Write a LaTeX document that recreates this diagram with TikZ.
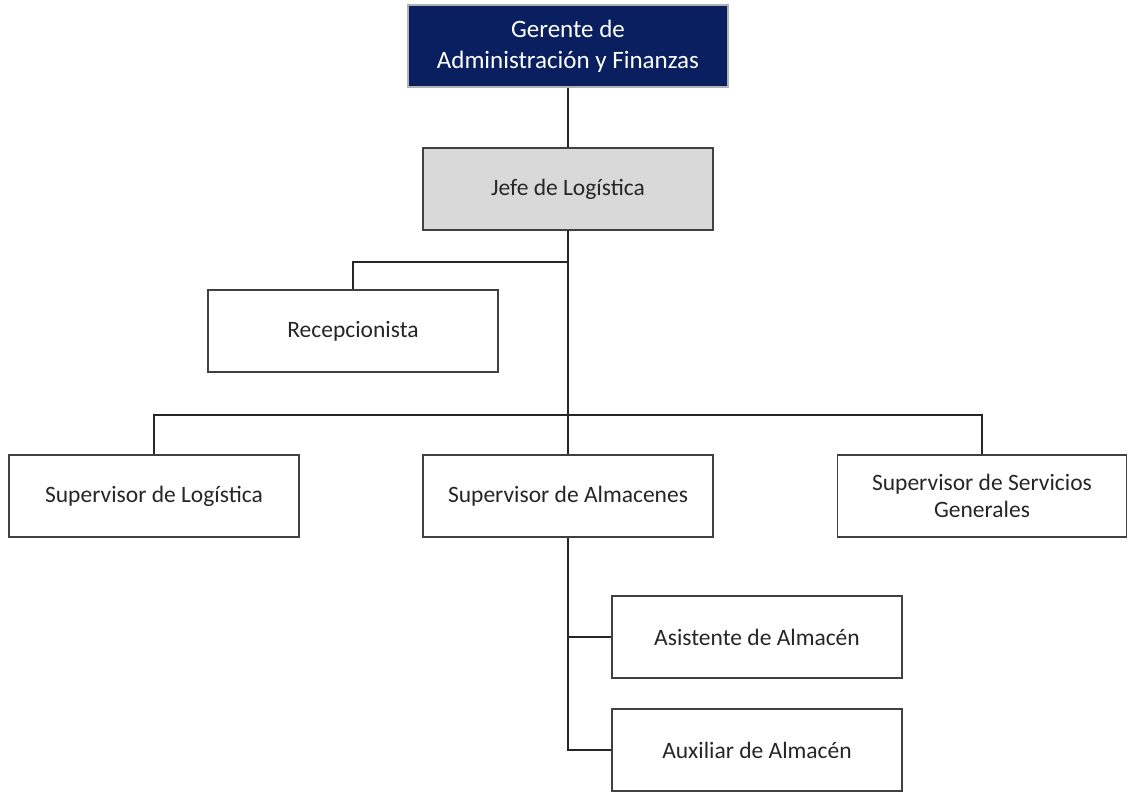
\documentclass[tikz,border=0pt]{standalone}
\usepackage{fontspec}
\setmainfont{Carlito}
\usetikzlibrary{positioning,calc}
\definecolor{navy}{HTML}{0A1F5F}
\definecolor{boxgray}{HTML}{D9D9D9}
\definecolor{edge}{HTML}{404040}
\definecolor{ink}{HTML}{262626}

\begin{document}
\begin{tikzpicture}[x=1pt,y=-1pt,every node/.style={font=\fontsize{23.5}{27}\selectfont},
  post/.style={draw=edge,line width=1.6pt,fill=white,text=ink,minimum width=290pt,minimum height=82pt,align=center,inner sep=0pt},
  link/.style={draw=ink,line width=1.5pt}]
\useasboundingbox (0,0) rectangle (1128,799);
\node[post,fill=navy,draw=gray!60,text=white,minimum width=320pt,font=\fontsize{25}{31}\selectfont] (ger) at (568,46) {Gerente de\\Administración y Finanzas};
\node[post,fill=boxgray] (jefe) at (568,189) {Jefe de Logística};
\node[post] (recep) at (353,331) {Recepcionista};
\node[post] (supl) at (154,496) {Supervisor de Logística};
\node[post] (supa) at (568,496) {Supervisor de Almacenes};
\node[post,minimum width=289pt] (sups) at (982,496) {Supervisor de Servicios\\Generales};
\node[post] (asis) at (757,637) {Asistente de Almacén};
\node[post] (aux) at (757,750) {Auxiliar de Almacén};
\coordinate (r1) at (568,262);
\coordinate (b1) at (568,415);
\draw[link] (ger) -- (jefe);
\draw[link] (jefe.south) -- (b1);
\draw[link] (r1) -| (recep.north);
\draw[link] (supl.north) |- (b1) -| (sups.north);
\draw[link] (b1) -- (supa.north);
\draw[link] (supa.south) |- (aux.west);
\draw[link] (asis.west) -- (asis.west -| supa.south);
\end{tikzpicture}
\end{document}
